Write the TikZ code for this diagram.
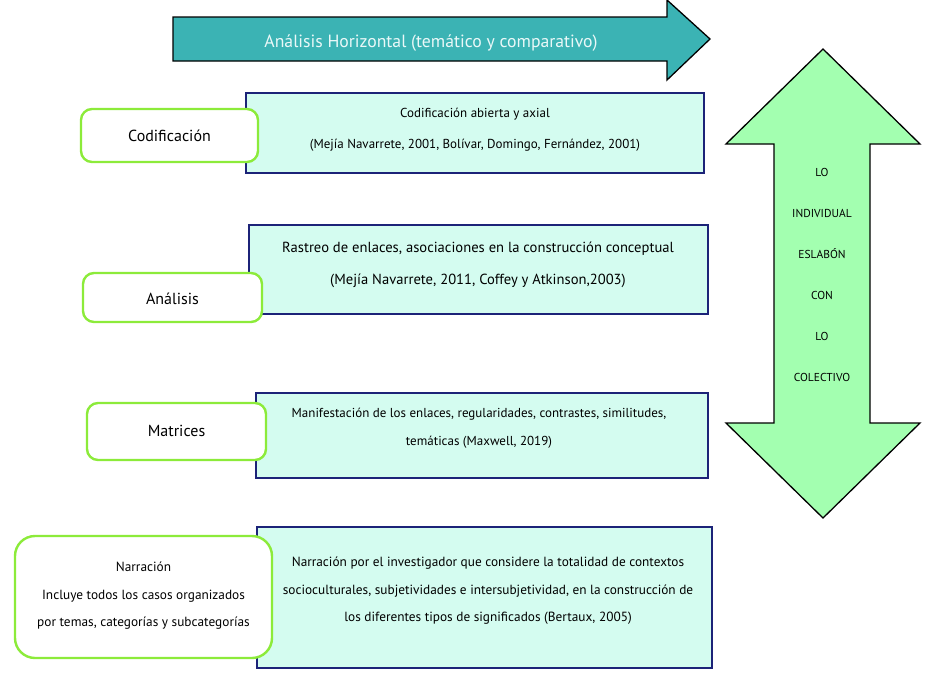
\documentclass[tikz,border=0pt]{standalone}
\usepackage{fontspec}
\setmainfont{PT Sans}
\definecolor{tealA}{HTML}{3BB3B4}
\definecolor{navyB}{HTML}{1C2378}
\definecolor{mintB}{HTML}{D4FCF0}
\definecolor{limeG}{HTML}{8CEB3A}
\definecolor{greenA}{HTML}{A3FFB0}
\definecolor{titleT}{HTML}{EAF8F8}
\begin{document}
\begin{tikzpicture}[x=1pt,y=-1pt,
  bluebox/.style={draw=navyB, line width=1.8pt, fill=mintB, inner sep=0pt},
  greenbox/.style={draw=limeG, line width=2.4pt, fill=white, rounded corners=11pt, inner sep=0pt},
  bodytext/.style={align=center, inner sep=0pt, font=\fontsize{13}{31}\selectfont},
  labeltext/.style={align=center, inner sep=0pt, font=\fontsize{16}{20}\selectfont},
  arrowtext/.style={align=center, inner sep=0pt, font=\fontsize{11.5}{41}\selectfont},
  bigarrow/.style={draw=black, line width=1.3pt, line join=miter}]
\useasboundingbox (0,0) rectangle (930,683);

% horizontal teal arrow
\draw[bigarrow, fill=tealA] (173,17) -- (667,17) -- (667,0) -- (710,39) -- (667,80) -- (667,61) -- (173,61) -- cycle;
\node[inner sep=0pt, text=titleT, font=\fontsize{17.7}{20}\selectfont] (title) at (431,43) {Análisis Horizontal (temático y comparativo)};

% vertical double arrow
\draw[bigarrow, fill=greenA] (823,49) -- (920,144) -- (870,144) -- (870,423) -- (920,423) -- (823,518) -- (726,423) -- (774,423) -- (774,144) -- (726,144) -- cycle;
\node[arrowtext] (vt) at (822,275) {LO\\INDIVIDUAL\\ESLABÓN\\CON\\LO\\COLECTIVO};

% row 1
\node[bluebox, minimum width=458pt, minimum height=80pt] (b1) at (475,133) {};
\node[bodytext] (t1) at (475,130) {Codificación abierta y axial\\(Mejía Navarrete, 2001, Bolívar, Domingo, Fernández, 2001)};
\node[greenbox, minimum width=177pt, minimum height=53pt] (g1) at (169.5,135.5) {};
\node[labeltext] (l1) at (169.5,135.5) {Codificación};

% row 2
\node[bluebox, minimum width=459pt, minimum height=89pt] (b2) at (478.5,269.5) {};
\node[bodytext, font=\fontsize{14.6}{32}\selectfont] (t2) at (478,265) {Rastreo de enlaces, asociaciones en la construcción conceptual\\(Mejía Navarrete, 2011, Coffey y Atkinson,2003)};
\node[greenbox, minimum width=179pt, minimum height=49pt] (g2) at (172.5,297.5) {};
\node[labeltext] (l2) at (172.5,299) {Análisis};

% row 3
\node[bluebox, minimum width=452pt, minimum height=85pt] (b3) at (482,435.5) {};
\node[bodytext, font=\fontsize{13}{28}\selectfont] (t3) at (479,428) {Manifestación de los enlaces, regularidades, contrastes, similitudes,\\temáticas (Maxwell, 2019)};
\node[greenbox, minimum width=179pt, minimum height=57pt] (g3) at (176.5,431.5) {};
\node[labeltext] (l3) at (176.5,431) {Matrices};

% row 4
\node[bluebox, minimum width=455pt, minimum height=141pt] (b4) at (484.5,597.5) {};
\node[bodytext, font=\fontsize{13.3}{27.5}\selectfont] (t4) at (488,591) {Narración por el investigador que considere la totalidad de contextos\\socioculturales, subjetividades e intersubjetividad, en la construcción de\\los diferentes tipos de significados (Bertaux, 2005)};
\node[greenbox, rounded corners=20pt, minimum width=257pt, minimum height=122pt] (g4) at (143.5,597) {};
\node[bodytext, font=\fontsize{13.3}{27.5}\selectfont] (l4) at (143.5,596) {Narración\\Incluye todos los casos organizados\\por temas, categorías y subcategorías};
\end{tikzpicture}
\end{document}
